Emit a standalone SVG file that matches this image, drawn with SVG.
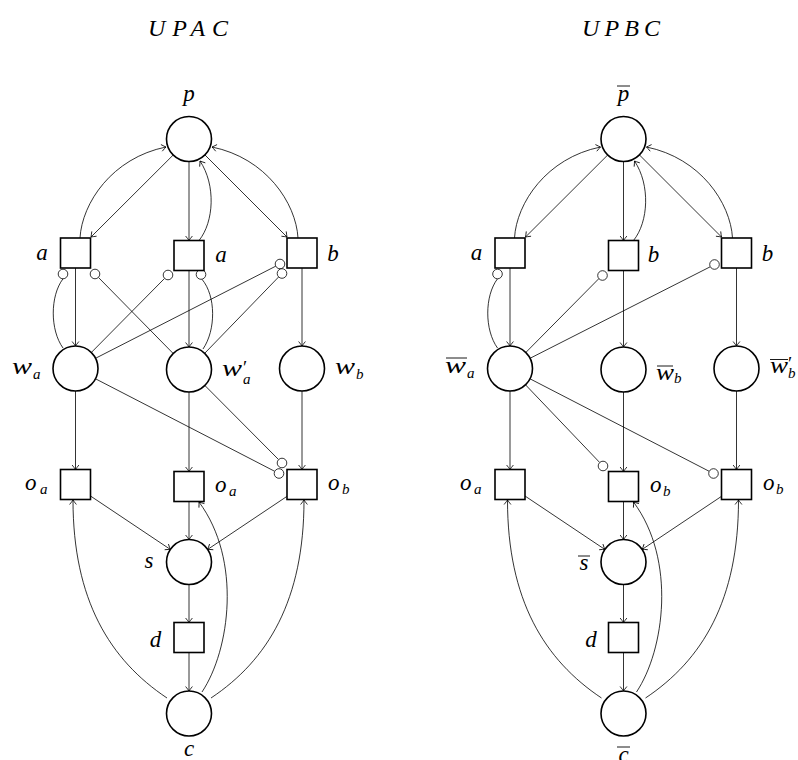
<svg xmlns="http://www.w3.org/2000/svg" width="798" height="760" viewBox="0 0 798 760">
<defs>
<style>
.pl{fill:#fff;stroke:#000;stroke-width:1.6}
.tr{fill:#fff;stroke:#000;stroke-width:1.6}
.arc{fill:none;stroke:#000;stroke-width:0.8}
.inh{fill:#fff;stroke:#000;stroke-width:0.8}
.bar{stroke:#000;stroke-width:0.9}
text{font-family:"Liberation Serif","Times New Roman",serif;font-style:italic;fill:#000}
.lb{font-size:23px}
.sb{font-size:15px}
.pr{font-size:19px;font-style:normal}
.tt{font-size:24px}
</style>
<marker id="ar" viewBox="-6 -5 8 10" markerWidth="8" markerHeight="10" refX="0" refY="0" orient="auto" markerUnits="userSpaceOnUse">
<path d="M-4.5,-3.4 Q-1.4,-0.9 0,0 Q-1.4,0.9 -4.5,3.4" fill="none" stroke="#000" stroke-width="0.8"/>
</marker>
</defs>
<rect width="798" height="760" fill="#fff"/>

<text class="tt" x="148" y="36" textLength="80" lengthAdjust="spacing">UPAC</text>
<text class="tt" x="582" y="36" textLength="78" lengthAdjust="spacing">UPBC</text>

<!-- connectors left -->
<g id="connectors-left">
<path class="arc" marker-end="url(#ar)" d="M173.2,155 L91,237"/>
<path class="arc" marker-end="url(#ar)" d="M80,238 C82,203 112,158 166,147"/>
<path class="arc" marker-end="url(#ar)" d="M189,161.5 L189,240.5"/>
<path class="arc" marker-end="url(#ar)" d="M199,240.5 C214,222 216,185 200,161"/>
<path class="arc" marker-end="url(#ar)" d="M204.9,154.9 L287,237"/>
<path class="arc" marker-end="url(#ar)" d="M298,238 C296,203 266,158 212,147"/>
<path class="arc" marker-end="url(#ar)" d="M75.5,268 L75.5,346"/>
<path class="arc" marker-end="url(#ar)" d="M189,270.5 L189,347"/>
<path class="arc" marker-end="url(#ar)" d="M302,268 L302,346"/>
<path class="arc" d="M63,348 C50,330 50,296 63,278.8"/>
<circle class="inh" cx="63" cy="274" r="4.8"/>
<path class="arc" d="M173.2,353.5 L98.4,277.4"/>
<circle class="inh" cx="95" cy="274" r="4.8"/>
<path class="arc" d="M91.3,352.5 L164.6,278.4"/>
<circle class="inh" cx="168" cy="275" r="4.8"/>
<path class="arc" d="M203,349 C216,330 216,296 202,279.3"/>
<circle class="inh" cx="201" cy="274.5" r="4.8"/>
<path class="arc" d="M95.5,358.3 L275.7,266.2"/>
<circle class="inh" cx="280" cy="264" r="4.8"/>
<path class="arc" d="M204.7,353.3 L278.7,276.9"/>
<circle class="inh" cx="282" cy="273.5" r="4.8"/>
<path class="arc" marker-end="url(#ar)" d="M75.5,391 L75.5,469.5"/>
<path class="arc" marker-end="url(#ar)" d="M189,392 L189,471.5"/>
<path class="arc" marker-end="url(#ar)" d="M302,391 L302,469.5"/>
<path class="arc" d="M95.5,378.8 L274.7,471.3"/>
<circle class="inh" cx="279" cy="473.5" r="4.8"/>
<path class="arc" d="M204.9,385.5 L278.6,459.6"/>
<circle class="inh" cx="282" cy="463" r="4.8"/>
<path class="arc" marker-end="url(#ar)" d="M90.5,496 L170.3,549.4"/>
<path class="arc" marker-end="url(#ar)" d="M189,501.5 L189,539.5"/>
<path class="arc" marker-end="url(#ar)" d="M287.5,496 L207.7,549.4"/>
<path class="arc" marker-end="url(#ar)" d="M189,584.5 L189,622.5"/>
<path class="arc" marker-end="url(#ar)" d="M189,652.5 L189,691"/>
<path class="arc" marker-end="url(#ar)" d="M167,698 C110,660 73,600 73,500"/>
<path class="arc" marker-end="url(#ar)" d="M202,692 C230,650 242,560 199,502"/>
<path class="arc" marker-end="url(#ar)" d="M211,698 C268,660 304,600 304,500"/>
</g>

<!-- connectors right -->
<g id="connectors-right" transform="translate(434.5 0)">
<path class="arc" marker-end="url(#ar)" d="M173.2,155 L91,237"/>
<path class="arc" marker-end="url(#ar)" d="M80,238 C82,203 112,158 166,147"/>
<path class="arc" marker-end="url(#ar)" d="M189,161.5 L189,240.5"/>
<path class="arc" marker-end="url(#ar)" d="M199,240.5 C214,222 216,185 200,161"/>
<path class="arc" marker-end="url(#ar)" d="M204.9,154.9 L287,237"/>
<path class="arc" marker-end="url(#ar)" d="M298,238 C296,203 266,158 212,147"/>
<path class="arc" marker-end="url(#ar)" d="M75.5,268 L75.5,346"/>
<path class="arc" marker-end="url(#ar)" d="M189,270.5 L189,347"/>
<path class="arc" marker-end="url(#ar)" d="M302,268 L302,346"/>
<path class="arc" d="M63,348 C50,330 50,296 63,278.8"/>
<circle class="inh" cx="63" cy="274" r="4.8"/>
<path class="arc" d="M91.3,352.5 L164.6,278.4"/>
<circle class="inh" cx="168" cy="275.5" r="4.8"/>
<path class="arc" d="M95.5,358.3 L275.7,266.8"/>
<circle class="inh" cx="280" cy="264.5" r="4.8"/>
<path class="arc" marker-end="url(#ar)" d="M75.5,391 L75.5,469.5"/>
<path class="arc" marker-end="url(#ar)" d="M189,392 L189,471.5"/>
<path class="arc" marker-end="url(#ar)" d="M302,391 L302,469.5"/>
<path class="arc" d="M91,384.8 L165.2,462.5"/>
<circle class="inh" cx="168.5" cy="466" r="4.8"/>
<path class="arc" d="M95.5,378.8 L274.7,471.3"/>
<circle class="inh" cx="279" cy="473.5" r="4.8"/>
<path class="arc" marker-end="url(#ar)" d="M90.5,496 L170.3,549.4"/>
<path class="arc" marker-end="url(#ar)" d="M189,501.5 L189,539.5"/>
<path class="arc" marker-end="url(#ar)" d="M287.5,496 L207.7,549.4"/>
<path class="arc" marker-end="url(#ar)" d="M189,584.5 L189,622.5"/>
<path class="arc" marker-end="url(#ar)" d="M189,652.5 L189,691"/>
<path class="arc" marker-end="url(#ar)" d="M167,698 C110,660 73,600 73,500"/>
<path class="arc" marker-end="url(#ar)" d="M202,692 C230,650 242,560 199,502"/>
<path class="arc" marker-end="url(#ar)" d="M211,698 C268,660 304,600 304,500"/>
</g>

<!-- left nodes -->
<g id="L-p"><circle class="pl" cx="189" cy="139" r="22.5"/><text class="lb" x="189" y="101" text-anchor="middle">p</text></g>
<g id="L-a1"><rect class="tr" x="60.5" y="238" width="30" height="30"/><text class="lb" x="42" y="260" text-anchor="middle">a</text></g>
<g id="L-a2"><rect class="tr" x="174" y="240.5" width="30" height="30"/><text class="lb" x="221" y="262" text-anchor="middle">a</text></g>
<g id="L-b"><rect class="tr" x="287" y="238" width="30" height="30"/><text class="lb" x="333" y="261" text-anchor="middle">b</text></g>
<g id="L-wa"><circle class="pl" cx="75.5" cy="368.5" r="22.5"/><text class="lb" x="12" y="374" textLength="20" lengthAdjust="spacingAndGlyphs">w</text><text class="sb" x="33" y="379">a</text></g>
<g id="L-wa2"><circle class="pl" cx="189" cy="369.5" r="22.5"/><text class="lb" x="222" y="376" textLength="20" lengthAdjust="spacingAndGlyphs">w</text><text class="pr" x="243" y="374">′</text><text class="sb" x="243" y="384">a</text></g>
<g id="L-wb"><circle class="pl" cx="302" cy="368.5" r="22.5"/><text class="lb" x="335" y="374" textLength="20" lengthAdjust="spacingAndGlyphs">w</text><text class="sb" x="356" y="379">b</text></g>
<g id="L-oa1"><rect class="tr" x="60.5" y="469.5" width="30" height="30"/><text class="lb" x="25" y="490">o</text><text class="sb" x="40" y="494">a</text></g>
<g id="L-oa2"><rect class="tr" x="174" y="471.5" width="30" height="30"/><text class="lb" x="215" y="492">o</text><text class="sb" x="229" y="496">a</text></g>
<g id="L-ob"><rect class="tr" x="287" y="469.5" width="30" height="30"/><text class="lb" x="328" y="490">o</text><text class="sb" x="342" y="494">b</text></g>
<g id="L-s"><circle class="pl" cx="189" cy="562" r="22.5"/><text class="lb" x="149" y="568" text-anchor="middle">s</text></g>
<g id="L-d"><rect class="tr" x="174" y="622.5" width="30" height="30"/><text class="lb" x="155.5" y="647" text-anchor="middle">d</text></g>
<g id="L-c"><circle class="pl" cx="189" cy="713.5" r="22.5"/><text class="lb" x="189" y="756" text-anchor="middle">c</text></g>

<!-- right nodes -->
<g id="R-p"><circle class="pl" cx="623.5" cy="139" r="22.5"/><text class="lb" x="623.5" y="101" text-anchor="middle">p</text><line class="bar" x1="617" y1="86" x2="630" y2="86"/></g>
<g id="R-a"><rect class="tr" x="495" y="238" width="30" height="30"/><text class="lb" x="476.5" y="260" text-anchor="middle">a</text></g>
<g id="R-b1"><rect class="tr" x="608.5" y="240.5" width="30" height="30"/><text class="lb" x="653.5" y="262" text-anchor="middle">b</text></g>
<g id="R-b2"><rect class="tr" x="721.5" y="238" width="30" height="30"/><text class="lb" x="767.5" y="261" text-anchor="middle">b</text></g>
<g id="R-wa"><circle class="pl" cx="510" cy="368.5" r="22.5"/><text class="lb" x="445" y="373" textLength="21" lengthAdjust="spacingAndGlyphs">w</text><text class="sb" x="467" y="378">a</text><line class="bar" x1="446" y1="358" x2="467" y2="358"/></g>
<g id="R-wb"><circle class="pl" cx="623.5" cy="369.5" r="22.5"/><text class="lb" x="656" y="380" textLength="18" lengthAdjust="spacingAndGlyphs">w</text><text class="sb" x="674" y="383">b</text><line class="bar" x1="657" y1="366" x2="673" y2="366"/></g>
<g id="R-wb2"><circle class="pl" cx="736.5" cy="368.5" r="22.5"/><text class="lb" x="770" y="373" textLength="18" lengthAdjust="spacingAndGlyphs">w</text><text class="pr" x="788" y="370">′</text><text class="sb" x="788" y="378">b</text><line class="bar" x1="770" y1="359.5" x2="788" y2="359.5"/></g>
<g id="R-oa"><rect class="tr" x="495" y="469.5" width="30" height="30"/><text class="lb" x="460" y="490">o</text><text class="sb" x="474" y="494">a</text></g>
<g id="R-ob1"><rect class="tr" x="608.5" y="471.5" width="30" height="30"/><text class="lb" x="650" y="492">o</text><text class="sb" x="663" y="496">b</text></g>
<g id="R-ob2"><rect class="tr" x="721.5" y="469.5" width="30" height="30"/><text class="lb" x="763" y="490">o</text><text class="sb" x="776" y="494">b</text></g>
<g id="R-s"><circle class="pl" cx="623.5" cy="562" r="22.5"/><text class="lb" x="584" y="570" text-anchor="middle">s</text><line class="bar" x1="578" y1="556" x2="590" y2="556"/></g>
<g id="R-d"><rect class="tr" x="608.5" y="622.5" width="30" height="30"/><text class="lb" x="591" y="647" text-anchor="middle">d</text></g>
<g id="R-c"><circle class="pl" cx="623.5" cy="713.5" r="22.5"/><text class="lb" x="623.5" y="762" text-anchor="middle">c</text><line class="bar" x1="617" y1="747" x2="630" y2="747"/></g>
</svg>
